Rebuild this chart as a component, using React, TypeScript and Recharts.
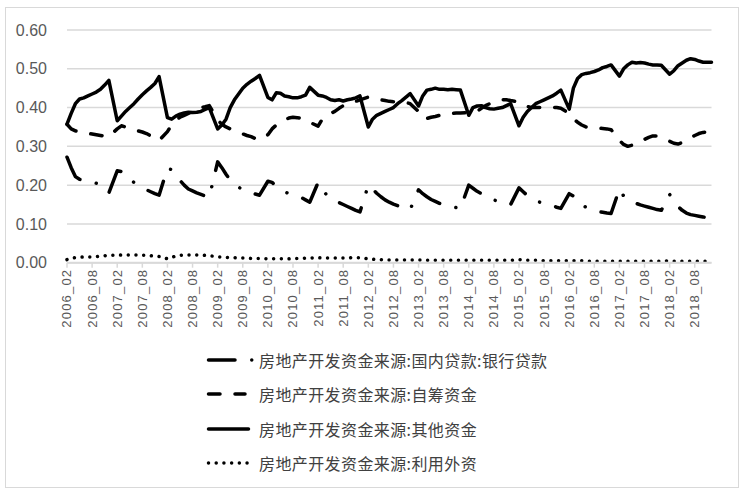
import { CartesianGrid, Legend, Line, LineChart, XAxis, YAxis } from "recharts";

// Monthly shares of real-estate development funding (Feb–Dec each year; January is not published)
const YEARS = [2006, 2007, 2008, 2009, 2010, 2011, 2012, 2013, 2014, 2015, 2016, 2017, 2018];
const MONTHS = ["02", "03", "04", "05", "06", "07", "08", "09", "10", "11", "12"];
const Y_TICKS = [0, 0.1, 0.2, 0.3, 0.4, 0.5, 0.6];

// 国内贷款:银行贷款
const bankLoans = [
	0.272, 0.245, 0.222, 0.215, 0.212, 0.21, 0.208, 0.205, 0.197, 0.188, 0.18,
	0.237, 0.235, 0.225, 0.215, 0.207, 0.2, 0.193, 0.188, 0.183, 0.178, 0.174,
	0.243, 0.24, 0.225, 0.212, 0.2, 0.19, 0.185, 0.18, 0.176, 0.172, 0.169,
	0.26, 0.245, 0.228, 0.213, 0.204, 0.195, 0.188, 0.183, 0.18, 0.177, 0.174,
	0.21, 0.207, 0.198, 0.19, 0.183, 0.178, 0.175, 0.172, 0.168, 0.162, 0.156,
	0.207, 0.19, 0.175, 0.165, 0.16, 0.155, 0.15, 0.145, 0.14, 0.135, 0.131,
	0.2, 0.19, 0.179, 0.17, 0.162, 0.156, 0.151, 0.147, 0.143, 0.14, 0.137,
	0.188, 0.178, 0.17, 0.163, 0.158, 0.153, 0.149, 0.146, 0.144, 0.142, 0.14,
	0.2, 0.192, 0.184, 0.178, 0.171, 0.166, 0.162, 0.158, 0.154, 0.152, 0.15,
	0.193, 0.183, 0.173, 0.167, 0.16, 0.156, 0.153, 0.15, 0.147, 0.143, 0.14,
	0.178, 0.172, 0.16, 0.15, 0.143, 0.138, 0.135, 0.132, 0.13, 0.128, 0.127,
	0.19, 0.172, 0.162, 0.157, 0.153, 0.149, 0.146, 0.143, 0.14, 0.137, 0.135,
	0.176, 0.16, 0.145, 0.135, 0.128, 0.124, 0.122, 0.12, 0.118, 0.116, 0.114,
];

// 自筹资金
const selfRaised = [
	0.357, 0.345, 0.34, 0.337, 0.335, 0.333, 0.332, 0.33, 0.328, 0.326, 0.325,
	0.345, 0.353, 0.35, 0.346, 0.342, 0.34, 0.337, 0.333, 0.327, 0.32, 0.315,
	0.338, 0.355, 0.368, 0.375, 0.38, 0.385, 0.39, 0.395, 0.4, 0.402, 0.405,
	0.368, 0.357, 0.35, 0.345, 0.34, 0.336, 0.332, 0.328, 0.325, 0.32, 0.317,
	0.33, 0.345, 0.355, 0.362, 0.368, 0.373, 0.375, 0.374, 0.372, 0.368, 0.362,
	0.352, 0.37, 0.377, 0.385, 0.39, 0.398, 0.405, 0.41, 0.413, 0.416, 0.42,
	0.427, 0.425, 0.422, 0.42, 0.418, 0.416, 0.415, 0.415, 0.415, 0.413, 0.41,
	0.39, 0.372, 0.372, 0.375, 0.377, 0.38, 0.382, 0.384, 0.385, 0.386, 0.386,
	0.387, 0.385, 0.39, 0.398, 0.405, 0.41, 0.415, 0.418, 0.42, 0.42, 0.418,
	0.415, 0.41, 0.403, 0.4, 0.4, 0.4, 0.4, 0.4, 0.4, 0.4, 0.398,
	0.385, 0.372, 0.362, 0.355, 0.35, 0.348, 0.347, 0.347, 0.346, 0.345, 0.343,
	0.315, 0.305, 0.3, 0.303, 0.307, 0.312, 0.318, 0.323, 0.327, 0.327, 0.322,
	0.313, 0.308, 0.306, 0.31, 0.316, 0.322, 0.328, 0.333, 0.336, 0.337, 0.338,
];

// 其他资金
const otherFunds = [
	0.357, 0.385, 0.41, 0.422, 0.425, 0.43, 0.435, 0.44, 0.447, 0.458, 0.47,
	0.366, 0.378, 0.39, 0.4, 0.41, 0.422, 0.433, 0.443, 0.452, 0.462, 0.48,
	0.374, 0.37, 0.378, 0.383, 0.386, 0.388, 0.387, 0.388, 0.39, 0.395, 0.4,
	0.345, 0.355, 0.37, 0.4, 0.42, 0.435, 0.45, 0.46, 0.468, 0.475, 0.483,
	0.426, 0.42, 0.438, 0.437, 0.43, 0.428, 0.425, 0.425, 0.428, 0.432, 0.452,
	0.432, 0.43, 0.426, 0.42, 0.418, 0.42, 0.417, 0.42, 0.422, 0.425, 0.43,
	0.35, 0.37, 0.38, 0.385, 0.39, 0.395, 0.4, 0.41, 0.418, 0.427, 0.436,
	0.404, 0.43, 0.445, 0.447, 0.45, 0.447, 0.447, 0.446, 0.447, 0.446, 0.445,
	0.38, 0.4, 0.404, 0.405, 0.4, 0.397, 0.396, 0.398, 0.4, 0.405, 0.41,
	0.353, 0.375, 0.39, 0.4, 0.41, 0.415, 0.42, 0.425, 0.43, 0.437, 0.445,
	0.396, 0.45, 0.475, 0.485, 0.488, 0.49, 0.493, 0.497, 0.503, 0.506, 0.51,
	0.481, 0.5, 0.51, 0.517, 0.515, 0.516, 0.515, 0.512, 0.51, 0.51, 0.509,
	0.486, 0.495, 0.508, 0.515, 0.522, 0.526, 0.524, 0.52, 0.517, 0.517, 0.517,
];

// 利用外资
const foreignCapital = [
	0.008, 0.012, 0.013, 0.014, 0.015, 0.015, 0.015, 0.016, 0.017, 0.018, 0.019,
	0.019, 0.02, 0.02, 0.02, 0.02, 0.02, 0.019, 0.019, 0.018, 0.017, 0.016,
	0.01, 0.014, 0.017, 0.019, 0.02, 0.02, 0.02, 0.02, 0.02, 0.019, 0.018,
	0.015, 0.015, 0.014, 0.013, 0.013, 0.012, 0.012, 0.012, 0.011, 0.011, 0.011,
	0.01, 0.01, 0.01, 0.01, 0.01, 0.01, 0.011, 0.011, 0.011, 0.012, 0.012,
	0.013, 0.012, 0.012, 0.012, 0.012, 0.012, 0.012, 0.012, 0.013, 0.013, 0.013,
	0.01, 0.009, 0.008, 0.008, 0.007, 0.007, 0.007, 0.007, 0.007, 0.007, 0.007,
	0.007, 0.007, 0.006, 0.006, 0.006, 0.006, 0.006, 0.006, 0.006, 0.006, 0.006,
	0.006, 0.006, 0.006, 0.006, 0.006, 0.006, 0.006, 0.006, 0.006, 0.006, 0.006,
	0.008, 0.007, 0.006, 0.006, 0.006, 0.006, 0.005, 0.005, 0.005, 0.005, 0.005,
	0.005, 0.005, 0.005, 0.005, 0.004, 0.004, 0.004, 0.004, 0.004, 0.004, 0.004,
	0.004, 0.004, 0.004, 0.004, 0.004, 0.004, 0.004, 0.004, 0.004, 0.004, 0.004,
	0.005, 0.004, 0.004, 0.004, 0.004, 0.004, 0.004, 0.004, 0.004, 0.004, 0.004,
];

const SERIES = [
	{
		key: "bank",
		name: "房地产开发资金来源:国内贷款:银行贷款",
		values: bankLoans,
		dash: "26.5 16.75 0.01 16.75",
		sampleEnd: 47,
	},
	{
		key: "self",
		name: "房地产开发资金来源:自筹资金",
		values: selfRaised,
		dash: "11.5 15",
		sampleEnd: 40,
	},
	{
		key: "other",
		name: "房地产开发资金来源:其他资金",
		values: otherFunds,
		dash: undefined,
		sampleEnd: 43.5,
	},
	{
		key: "foreign",
		name: "房地产开发资金来源:利用外资",
		values: foreignCapital,
		dash: "0.01 7.7",
		sampleEnd: 44,
	},
];

const LATIN = "'Liberation Sans', Arial, sans-serif";
const CJK = "'Noto Sans CJK SC', 'Noto Sans', sans-serif";
const GRID = "#d9d9d9";
const LABEL = "#595959";

function buildRows() {
	const rows: Record<string, string | number | undefined>[] = [];
	YEARS.forEach((year, yi) => {
		// January has no release; keep its slot so the axis spacing is monthly
		if (yi > 0) rows.push({ label: `${year}_01` });
		MONTHS.forEach((m, mi) => {
			const row: Record<string, string | number | undefined> = {
				label: `${year}_${m}`,
			};
			for (const s of SERIES) row[s.key] = s.values[yi * MONTHS.length + mi];
			rows.push(row);
		});
	});
	return rows;
}

const chartData = buildRows();

function MonthTick(props: any) {
	const { x, y, payload } = props;
	return (
		<text
			x={x}
			y={y}
			transform={`rotate(-90, ${x}, ${y})`}
			textAnchor="end"
			dominantBaseline="central"
			fontSize={13}
			letterSpacing={1.2}
			fill={LABEL}
			fontFamily={LATIN}
		>
			{payload.value}
		</text>
	);
}

function renderLegend() {
	return (
		<div style={{ fontFamily: CJK, fontSize: 16, color: "#404040" }}>
			{SERIES.map((s) => (
				<div
					key={s.key}
					style={{ display: "flex", alignItems: "center", height: 34.3 }}
				>
					<svg width={54} height={10} style={{ flex: "none" }}>
						<line
							x1={3.5}
							y1={5}
							x2={s.sampleEnd}
							y2={5}
							stroke="#000"
							strokeWidth={3.5}
							strokeDasharray={s.dash}
							strokeLinecap="round"
						/>
					</svg>
					<span style={{ letterSpacing: 0.4, whiteSpace: "nowrap" }}>
						{s.name}
					</span>
				</div>
			))}
		</div>
	);
}

export default function App() {
	return (
		<div
			style={{
				position: "relative",
				width: 748,
				height: 498,
				background: "#fff",
			}}
		>
			<style>{"body{margin:0;background:#fff}"}</style>
			<LineChart
				width={748}
				height={498}
				data={chartData}
				margin={{ top: 30, right: 36.5, left: 0, bottom: 165.3 }}
			>
				<CartesianGrid vertical={false} stroke={GRID} strokeWidth={1.5} />
				<XAxis
					dataKey="label"
					interval={5}
					height={70}
					axisLine={{ stroke: GRID, strokeWidth: 2 }}
					tickLine={{ stroke: GRID, strokeWidth: 1.5 }}
					tickSize={5}
					tickMargin={1}
					tick={<MonthTick />}
				/>
				<YAxis
					width={67}
					domain={[0, 0.6]}
					ticks={Y_TICKS}
					tickFormatter={(v: number) => v.toFixed(2)}
					axisLine={false}
					tickLine={false}
					tickSize={0}
					tickMargin={20}
					tick={{ fontSize: 16, fill: LABEL, fontFamily: LATIN }}
				/>
				<Legend
					layout="vertical"
					verticalAlign="middle"
					align="center"
					content={renderLegend}
					wrapperStyle={{ top: 343, left: 205, width: "auto" }}
				/>
				{SERIES.map((s) => (
					<Line
						key={s.key}
						type="linear"
						dataKey={s.key}
						name={s.name}
						stroke="#000"
						strokeWidth={3.5}
						strokeDasharray={s.dash}
						strokeLinecap="round"
						strokeLinejoin="round"
						dot={false}
						activeDot={false}
						connectNulls
						isAnimationActive={false}
					/>
				))}
			</LineChart>
			<div
				style={{
					position: "absolute",
					left: 5,
					top: 7,
					width: 734,
					height: 481,
					border: `1px solid ${GRID}`,
					boxSizing: "border-box",
					pointerEvents: "none",
				}}
			/>
		</div>
	);
}
